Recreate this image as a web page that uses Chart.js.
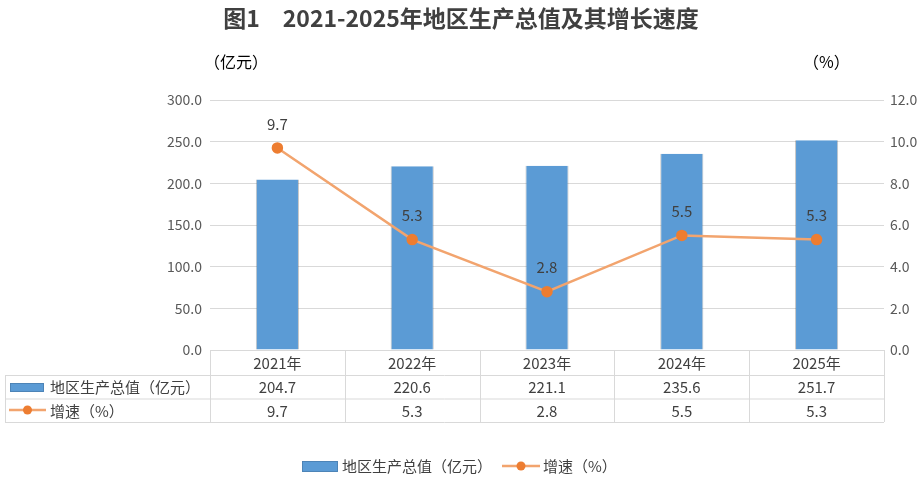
<!DOCTYPE html>
<html>
<head>
<meta charset="utf-8">
<script src="https://cdn.jsdelivr.net/npm/chart.js@4/dist/chart.umd.min.js"></script>
<style>
  html, body { margin: 0; padding: 0; background: #fff; }
  #wrap { width: 921px; height: 491px; }
</style>
</head>
<body>
<div id="wrap"><canvas id="chart" width="921" height="491"></canvas></div>
<script>
const years = ['2021年', '2022年', '2023年', '2024年', '2025年'];
const gdp = [204.7, 220.6, 221.1, 235.6, 251.7];
const growth = [9.7, 5.3, 2.8, 5.5, 5.3];
const leftTicks = [0, 50, 100, 150, 200, 250, 300];
const rightTicks = [0, 2, 4, 6, 8, 10, 12];

const titleText = '图1\u30002021-2025年地区生产总值及其增长速度';
const gdpName = '地区生产总值（亿元）';
const growthName = '增速（%）';

const FONT = '"Noto Sans CJK SC", "Noto Sans", sans-serif';
const BLUE = '#5B9BD5';
const LINE = '#F2A46E';
const DOT = '#ED7D31';
const GRID = '#D9D9D9';
const TXT = '#404040';

function barSwatch(ctx, x, y, w, h) {
  ctx.fillStyle = BLUE;
  ctx.fillRect(x, y, w, h);
  ctx.strokeStyle = '#4a7fb0';
  ctx.lineWidth = 0.8;
  ctx.strokeRect(x + 0.5, y + 0.5, w - 1, h - 1);
}

function lineSwatch(ctx, x, y, w) {
  ctx.strokeStyle = LINE;
  ctx.lineWidth = 2.5;
  ctx.beginPath();
  ctx.moveTo(x, y);
  ctx.lineTo(x + w, y);
  ctx.stroke();
  ctx.fillStyle = DOT;
  ctx.beginPath();
  ctx.arc(x + w / 2, y, 4.5, 0, Math.PI * 2);
  ctx.fill();
}

const decorPlugin = {
  id: 'decor',
  afterDraw(chart) {
    const ctx = chart.ctx;
    const xs = chart.scales.x;
    const area = chart.chartArea;
    ctx.save();

    // title
    ctx.fillStyle = TXT;
    ctx.font = 'bold 23px ' + FONT;
    ctx.textAlign = 'center';
    ctx.textBaseline = 'middle';
    ctx.fillText(titleText, 461, 18);

    // axis units
    ctx.font = '16px ' + FONT;
    ctx.fillStyle = '#000';
    ctx.textAlign = 'left';
    ctx.fillText('（亿元）', 204, 62);
    ctx.fillText('（%）', 803, 62);

    // data table
    const rows = [area.bottom, 375, 398.5, 422];
    const half = (xs.getPixelForValue(1) - xs.getPixelForValue(0)) / 2;
    const cols = years.map((_, i) => xs.getPixelForValue(i) - half);
    cols.push(area.right);
    const leftEdge = 5;

    ctx.strokeStyle = GRID;
    ctx.lineWidth = 1;
    ctx.beginPath();
    ctx.moveTo(area.left, rows[0] + 0.5);
    ctx.lineTo(area.right, rows[0] + 0.5);
    for (let r = 1; r < rows.length; r++) {
      ctx.moveTo(leftEdge, rows[r] + 0.5);
      ctx.lineTo(area.right, rows[r] + 0.5);
    }
    cols.forEach(c => {
      ctx.moveTo(Math.round(c) + 0.5, rows[0]);
      ctx.lineTo(Math.round(c) + 0.5, rows[3]);
    });
    ctx.moveTo(leftEdge + 0.5, rows[1]);
    ctx.lineTo(leftEdge + 0.5, rows[3]);
    ctx.stroke();

    ctx.fillStyle = TXT;
    ctx.font = '15px ' + FONT;
    ctx.textAlign = 'center';
    years.forEach((y, i) => {
      const cx = xs.getPixelForValue(i);
      ctx.fillText(y, cx, (rows[0] + rows[1]) / 2 + 1);
      ctx.fillText(gdp[i].toFixed(1), cx, (rows[1] + rows[2]) / 2 + 1);
      ctx.fillText(growth[i].toFixed(1), cx, (rows[2] + rows[3]) / 2 + 1);
    });

    ctx.textAlign = 'left';
    barSwatch(ctx, 10, 383, 34, 9);
    ctx.fillStyle = TXT;
    ctx.fillText(gdpName, 50, (rows[1] + rows[2]) / 2 + 1);
    lineSwatch(ctx, 9, 410, 37);
    ctx.fillStyle = TXT;
    ctx.fillText(growthName, 50, (rows[2] + rows[3]) / 2 + 1);

    // legend
    barSwatch(ctx, 302, 461, 36, 11);
    ctx.fillStyle = TXT;
    ctx.fillText(gdpName, 342, 466);
    lineSwatch(ctx, 502, 466, 38);
    ctx.fillStyle = TXT;
    ctx.fillText(growthName, 543, 466);

    ctx.restore();
  },
  afterDatasetsDraw(chart) {
    const ctx = chart.ctx;
    const meta = chart.getDatasetMeta(0);
    ctx.save();
    ctx.fillStyle = TXT;
    ctx.font = '15px ' + FONT;
    ctx.textAlign = 'center';
    ctx.textBaseline = 'middle';
    meta.data.forEach((pt, i) => {
      ctx.fillText(growth[i].toFixed(1), pt.x, pt.y - 24);
    });
    ctx.restore();
  }
};

new Chart(document.getElementById('chart'), {
  data: {
    labels: years,
    datasets: [
      {
        type: 'line',
        label: growthName,
        data: growth,
        yAxisID: 'y1',
        borderColor: LINE,
        borderWidth: 2.5,
        pointBackgroundColor: DOT,
        pointBorderColor: DOT,
        pointRadius: 4.5,
        tension: 0,
        order: 0
      },
      {
        type: 'bar',
        label: gdpName,
        data: gdp,
        yAxisID: 'y',
        backgroundColor: BLUE,
        borderColor: 'rgba(90,90,90,0.35)',
        borderWidth: { left: 1, right: 1, top: 0, bottom: 0 },
        categoryPercentage: 1,
        barPercentage: 0.32,
        order: 1
      }
    ]
  },
  options: {
    responsive: false,
    animation: false,
    devicePixelRatio: 1,
    layout: { padding: { left: 0, right: 0, top: 100, bottom: 141 } },
    plugins: {
      legend: { display: false },
      title: { display: false },
      tooltip: { enabled: false }
    },
    scales: {
      x: {
        display: false,
        offset: true
      },
      y: {
        position: 'left',
        min: 0,
        max: 300,
        afterFit(s) { s.width = 210; },
        afterBuildTicks(s) { s.ticks = leftTicks.map(v => ({ value: v })); },
        grid: { color: GRID, drawTicks: false },
        border: { display: false },
        ticks: {
          padding: 8,
          color: '#595959',
          font: { size: 14, family: FONT },
          callback: v => v.toFixed(1)
        }
      },
      y1: {
        position: 'right',
        min: 0,
        max: 12,
        afterFit(s) { s.width = 37; },
        afterBuildTicks(s) { s.ticks = rightTicks.map(v => ({ value: v })); },
        grid: { display: false, drawTicks: false },
        border: { display: false },
        ticks: {
          padding: 6,
          color: '#595959',
          font: { size: 14, family: FONT },
          callback: v => v.toFixed(1)
        }
      }
    }
  },
  plugins: [decorPlugin]
});
</script>
</body>
</html>
